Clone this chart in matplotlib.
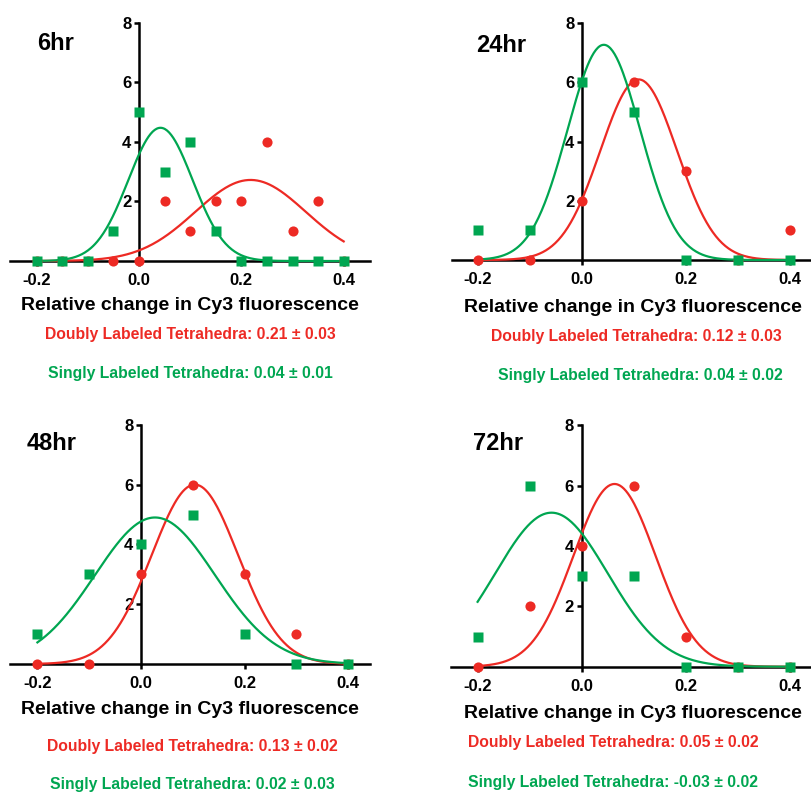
import numpy as np
import matplotlib
matplotlib.use("Agg")
import matplotlib.pyplot as plt

plt.rcParams['font.family'] = ['Liberation Sans', 'DejaVu Sans']

W, H = 812, 792
RED = '#ED2A24'
GREEN = '#00A651'

# ---------------- data ----------------
titles = ['6hr', '24hr', '48hr', '72hr']

x_fine = [-0.2, -0.15, -0.1, -0.05, 0.0, 0.05, 0.1, 0.15, 0.2, 0.25, 0.3, 0.35, 0.4]
x_coarse = [-0.2, -0.1, 0.0, 0.1, 0.2, 0.3, 0.4]

red_6 = [0, 0, 0, 0, 0, 2, 1, 2, 2, 4, 1, 2, 0]
green_6 = [0, 0, 0, 1, 5, 3, 4, 1, 0, 0, 0, 0, 0]
red_24 = [0, 0, 2, 6, 3, 0, 1]
green_24 = [1, 1, 6, 5, 0, 0, 0]
red_48 = [0, 0, 3, 6, 3, 1, 0]
green_48 = [1, 3, 4, 5, 1, 0, 0]
red_72 = [0, 2, 4, 6, 1, 0, 0]
green_72 = [1, 6, 3, 3, 0, 0, 0]

# Gaussian fit parameters (amplitude, mean, sd)
red_fit = [(2.72, 0.218, 0.108), (6.10, 0.109, 0.0737), (6.00, 0.104, 0.0835), (6.05, 0.063, 0.079)]
green_fit = [(4.47, 0.042, 0.063), (7.27, 0.042, 0.0697), (4.90, 0.027, 0.116), (5.10, -0.058, 0.108)]

xticks = [-0.2, 0.0, 0.2, 0.4]
xtick_labels = ['-0.2', '0.0', '0.2', '0.4']
yticks = [2, 4, 6, 8]
xlabel = 'Relative change in Cy3 fluorescence'
doubly_text = ['Doubly Labeled Tetrahedra: 0.21 \u00b1 0.03',
               'Doubly Labeled Tetrahedra: 0.12 \u00b1 0.03',
               'Doubly Labeled Tetrahedra: 0.13 \u00b1 0.02',
               'Doubly Labeled Tetrahedra: 0.05 \u00b1 0.02']
singly_text = ['Singly Labeled Tetrahedra: 0.04 \u00b1 0.01',
               'Singly Labeled Tetrahedra: 0.04 \u00b1 0.02',
               'Singly Labeled Tetrahedra: 0.02 \u00b1 0.03',
               'Singly Labeled Tetrahedra: -0.03 \u00b1 0.02']

xs = [x_fine, x_coarse, x_coarse, x_coarse]
reds = [red_6, red_24, red_48, red_72]
greens = [green_6, green_24, green_48, green_72]

# ---------------- layout (pixels) ----------------
# x0px, px per x unit, y0px, px per y unit, axis left px, axis right px
geom = [(139, 511.7, 261, 29.8, 10, 370),
        (582, 520.0, 260, 29.6, 452, 812),
        (141, 518.0, 664, 29.9, 10, 370),
        (581.7, 520.5, 666.7, 30.2, 451, 812)]
title_pos = [(37, 43), (476, 45), (27, 443), (473, 443)]
xlabel_pos = [(190, 306), (633, 307), (190, 710), (633, 713)]
doubly_pos = [(190, 334, 'center'), (636, 337, 'center'), (192, 746, 'center'), (468, 743, 'left')]
singly_pos = [(190, 373, 'center'), (640, 376, 'center'), (192, 784, 'center'), (468, 783, 'left')]

fig = plt.figure(figsize=(W / 100, H / 100), dpi=100)


def gauss(x, a, m, s):
    return a * np.exp(-(x - m) ** 2 / (2 * s ** 2))


ypad = 0.5
for i in range(4):
    x0, ppx, y0, ppy, lpx, rpx = geom[i]
    xa = (lpx - x0) / ppx
    xb = (rpx - x0) / ppx
    left = lpx / W
    width = (rpx - lpx) / W
    bottom = 1 - (y0 + ypad * ppy) / H
    height = (8 + 2 * ypad) * ppy / H
    ax = fig.add_axes([left, bottom, width, height])
    ax.set_xlim(xa, xb)
    ax.set_ylim(-ypad, 8 + ypad)
    ax.patch.set_alpha(0)
    for sp in ['top', 'right']:
        ax.spines[sp].set_visible(False)
    ax.spines['left'].set_position(('data', 0))
    ax.spines['bottom'].set_position(('data', 0))
    ax.spines['left'].set_bounds(0, 8)
    for sp in ['left', 'bottom']:
        ax.spines[sp].set_linewidth(1.8)
        ax.spines[sp].set_zorder(1)
    ax.set_xticks(xticks)
    ax.set_xticklabels(xtick_labels, fontsize=12, fontweight='bold')
    ax.set_yticks(yticks)
    ax.set_yticklabels([str(v) for v in yticks], fontsize=12, fontweight='bold')
    ax.tick_params(axis='both', direction='out', length=3.5, width=1.8)
    ax.tick_params(axis='x', pad=5)
    ax.tick_params(axis='y', pad=2)

    xc = np.linspace(-0.2, 0.4, 300)
    ax.plot(xc, gauss(xc, *red_fit[i]), color=RED, lw=1.6, zorder=3, clip_on=False)
    ax.plot(xc, gauss(xc, *green_fit[i]), color=GREEN, lw=1.6, zorder=3, clip_on=False)
    ax.plot(xs[i], reds[i], 'o', color=RED, ms=7.3, mec='none', zorder=4, clip_on=False)
    ax.plot(xs[i], greens[i], 's', color=GREEN, ms=6.6, mec='none', zorder=5, clip_on=False)

    tx, ty = title_pos[i]
    fig.text(tx / W, 1 - ty / H, titles[i], fontsize=17, fontweight='bold',
             ha='left', va='center')
    lx, ly = xlabel_pos[i]
    fig.text(lx / W, 1 - ly / H, xlabel, fontsize=14, fontweight='bold',
             ha='center', va='center')
    dx, dy, dha = doubly_pos[i]
    fig.text(dx / W, 1 - dy / H, doubly_text[i], fontsize=11.3, fontweight='bold',
             color=RED, ha=dha, va='center')
    sx, sy, sha = singly_pos[i]
    fig.text(sx / W, 1 - sy / H, singly_text[i], fontsize=11.3, fontweight='bold',
             color=GREEN, ha=sha, va='center')

fig.savefig('out.png', dpi=100)
